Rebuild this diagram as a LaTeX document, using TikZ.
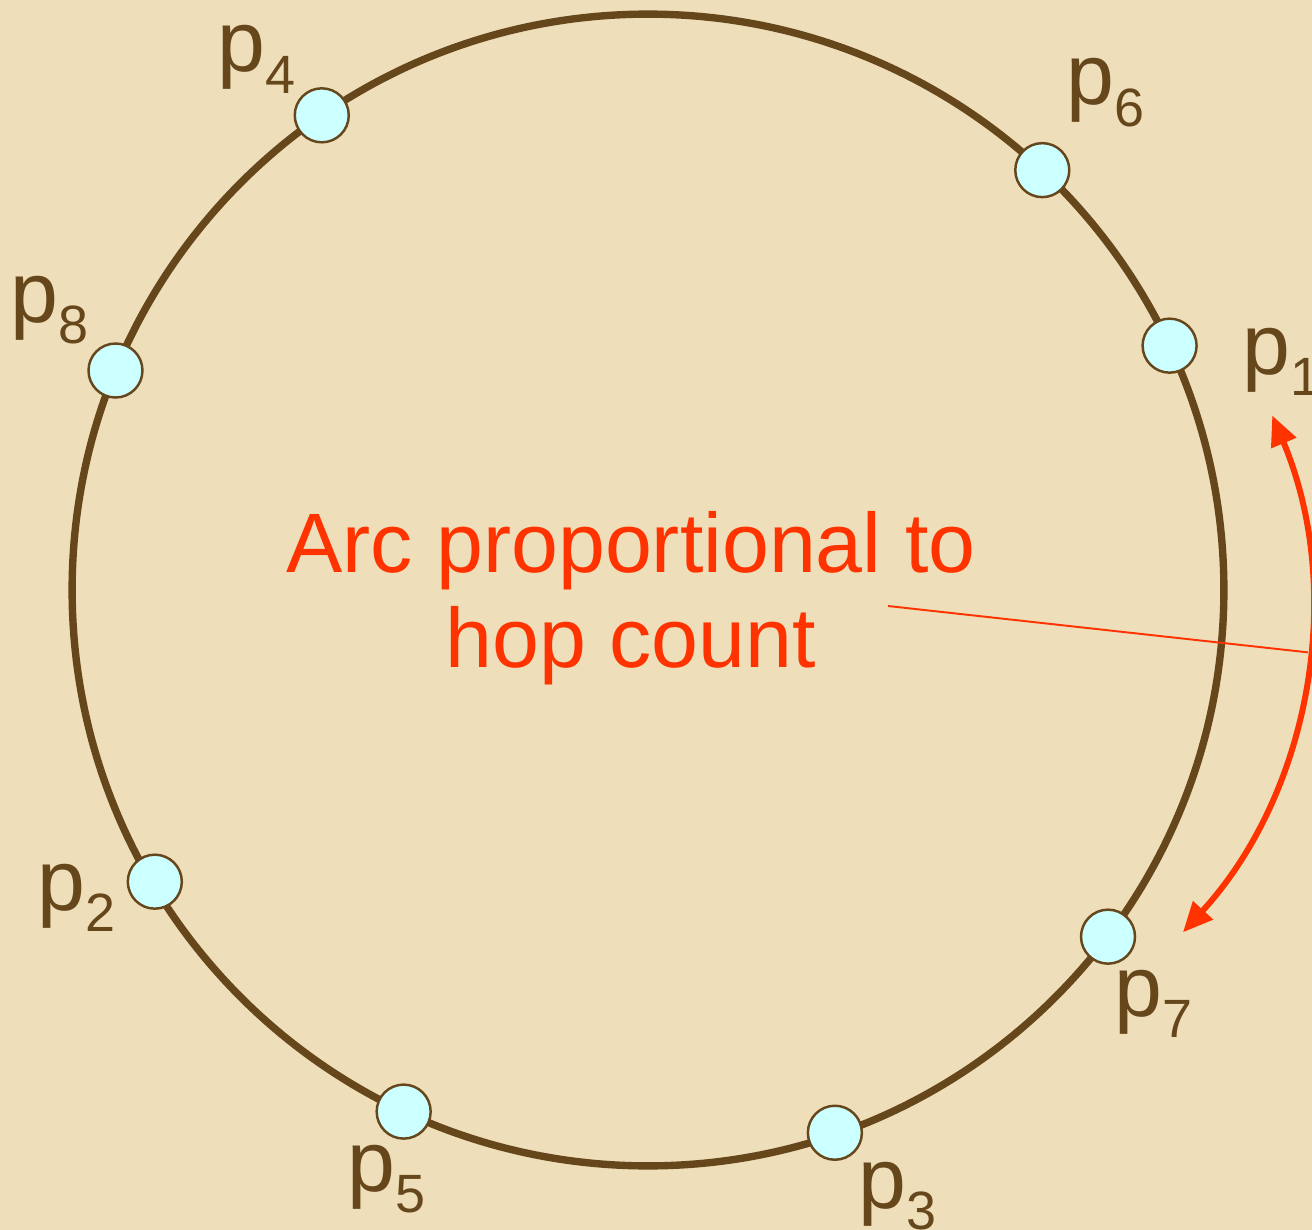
\documentclass[tikz,border=0pt]{standalone}
\usepackage{fontspec}
\setmainfont{Liberation Sans}
\usetikzlibrary{arrows.meta,positioning,calc}
\definecolor{paper}{RGB}{238,222,186}
\definecolor{ringbrown}{RGB}{102,70,27}
\definecolor{peercyan}{RGB}{204,255,255}
\definecolor{hopred}{RGB}{255,51,0}
\newcommand{\plab}[1]{p\raisebox{-12.5pt}{\fontsize{30.7}{34}\selectfont #1}}

\begin{document}
\begin{tikzpicture}[
    x=0.02cm, y=0.02cm,
    peer/.style={circle, draw=ringbrown, line width=1.4pt, fill=peercyan, minimum size=1.08cm, inner sep=0pt},
    plabel/.style={font=\fontsize{49}{56}\selectfont, text=ringbrown, inner sep=0pt, anchor=base west},
    hop/.style={hopred, line width=3.4pt, {Triangle[length=0.6cm,width=0.52cm]}-{Triangle[length=0.6cm,width=0.52cm]}}
]
\fill[paper] (0,0) rectangle (1312,-1230);
\useasboundingbox (0,0) rectangle (1312,-1230);

\coordinate (ring) at (648,-590);
\draw[ringbrown, line width=4.2pt] (ring) circle[radius=11.52cm];

\node[peer] (n1) at ($(ring)+(25.1:576)$) {};
\node[peer] (n2) at ($(ring)+(210.6:573)$) {};
\node[peer] (n3) at ($(ring)+(-71:574)$) {};
\node[peer] (n4) at ($(ring)+(124.5:576)$) {};
\node[peer] (n5) at ($(ring)+(244.9:576)$) {};
\node[peer] (n6) at ($(ring)+(46.8:576)$) {};
\node[peer] (n7) at ($(ring)+(-37:576)$) {};
\node[peer] (n8) at ($(ring)+(157.6:576)$) {};

\node[plabel] (l1) at (1242,-374) {\plab{1}};
\node[plabel] (l2) at (37,-910) {\plab{2}};
\node[plabel] (l3) at (858,-1208) {\plab{3}};
\node[plabel] (l4) at (217,-72) {\plab{4}};
\node[plabel] (l5) at (347,-1191) {\plab{5}};
\node[plabel] (l6) at (1066,-105) {\plab{6}};
\node[plabel] (l7) at (1114,-1016) {\plab{7}};
\node[plabel] (l8) at (10,-322) {\plab{8}};

% hop-count arc
\coordinate (hopc) at (823.3,-604);
\draw[hop] ($(hopc)+(-42.4:487)$) arc[start angle=-42.4, end angle=22.8, radius=9.74cm];
\coordinate (hopmid) at ($(hopc)+(-5.7:487)$);

\node[font=\fontsize{48}{54.4}\selectfont, text=hopred, align=center, inner sep=0pt] (arclabel) at (631,-598)
    {Arc proportional to\\hop count};
\coordinate (lblend) at (888,-606);
\draw[hopred, line width=1.1pt] (lblend) -- (hopmid);
\end{tikzpicture}
\end{document}
